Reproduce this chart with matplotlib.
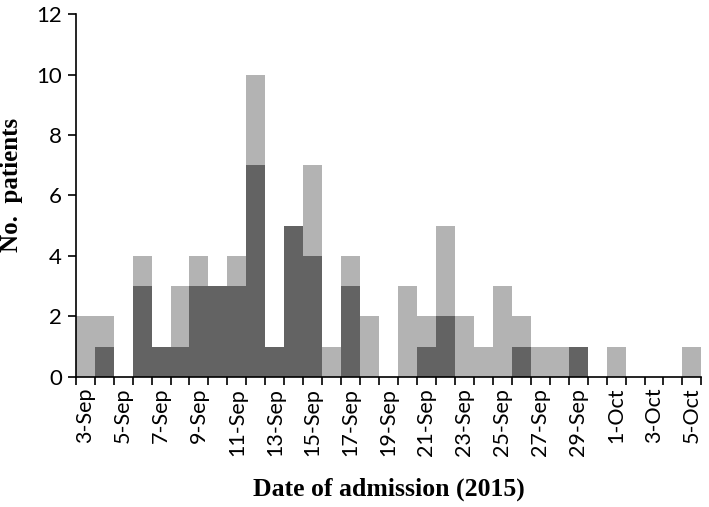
import matplotlib
matplotlib.use("Agg")
import matplotlib.pyplot as plt
import numpy as np

dates = ["3-Sep", "4-Sep", "5-Sep", "6-Sep", "7-Sep", "8-Sep", "9-Sep", "10-Sep",
         "11-Sep", "12-Sep", "13-Sep", "14-Sep", "15-Sep", "16-Sep", "17-Sep",
         "18-Sep", "19-Sep", "20-Sep", "21-Sep", "22-Sep", "23-Sep", "24-Sep",
         "25-Sep", "26-Sep", "27-Sep", "28-Sep", "29-Sep", "30-Sep", "1-Oct",
         "2-Oct", "3-Oct", "4-Oct", "5-Oct"]
dark = [0, 1, 0, 3, 1, 1, 3, 3, 3, 7, 1, 5, 4, 0, 3, 0, 0, 0, 1, 2, 0, 0,
        0, 1, 0, 0, 1, 0, 0, 0, 0, 0, 0]
light = [2, 1, 0, 1, 0, 2, 1, 0, 1, 3, 0, 0, 3, 1, 1, 2, 0, 3, 1, 3, 2, 1,
         3, 1, 1, 1, 0, 0, 1, 0, 0, 0, 1]
yticks = [0, 2, 4, 6, 8, 10, 12]

fig = plt.figure(figsize=(7.09, 5.07), dpi=100)
ax = fig.add_axes([0.1068, 0.257, 0.8825, 0.7148])

x = np.arange(len(dates))
ax.bar(x, dark, width=1.0, color="#636363", linewidth=0)
ax.bar(x, light, width=1.0, bottom=dark, color="#b3b3b3", linewidth=0)

ax.set_xlim(-0.5, len(dates) - 0.5)
ax.set_ylim(0, 12)
ax.set_yticks(yticks)
ax.set_xticks(x[::2])
ax.set_xticklabels(dates[::2], rotation=90, fontfamily="Lato", fontsize=15.5)
ax.set_xticks(np.arange(len(dates) + 1) - 0.5, minor=True)
ax.tick_params(axis="x", which="major", length=0, pad=8)
ax.tick_params(axis="x", which="minor", length=6, width=1.2, direction="out")
ax.tick_params(axis="y", length=6, width=1.2, direction="out", labelsize=16, pad=4)
for lab in ax.get_yticklabels():
    lab.set_fontfamily("Lato")

for s in ["top", "right"]:
    ax.spines[s].set_visible(False)
ax.spines["left"].set_linewidth(1.2)
ax.spines["bottom"].set_linewidth(1.2)

ax.set_ylabel("No.  patients", fontfamily="Liberation Serif", fontweight="bold",
              fontsize=18)
ax.yaxis.set_label_coords(-0.084, 0.529)
ax.set_xlabel("Date of admission (2015)", fontfamily="Liberation Serif",
              fontweight="bold", fontsize=18.5, labelpad=16)

fig.savefig("out.png", dpi=100)
